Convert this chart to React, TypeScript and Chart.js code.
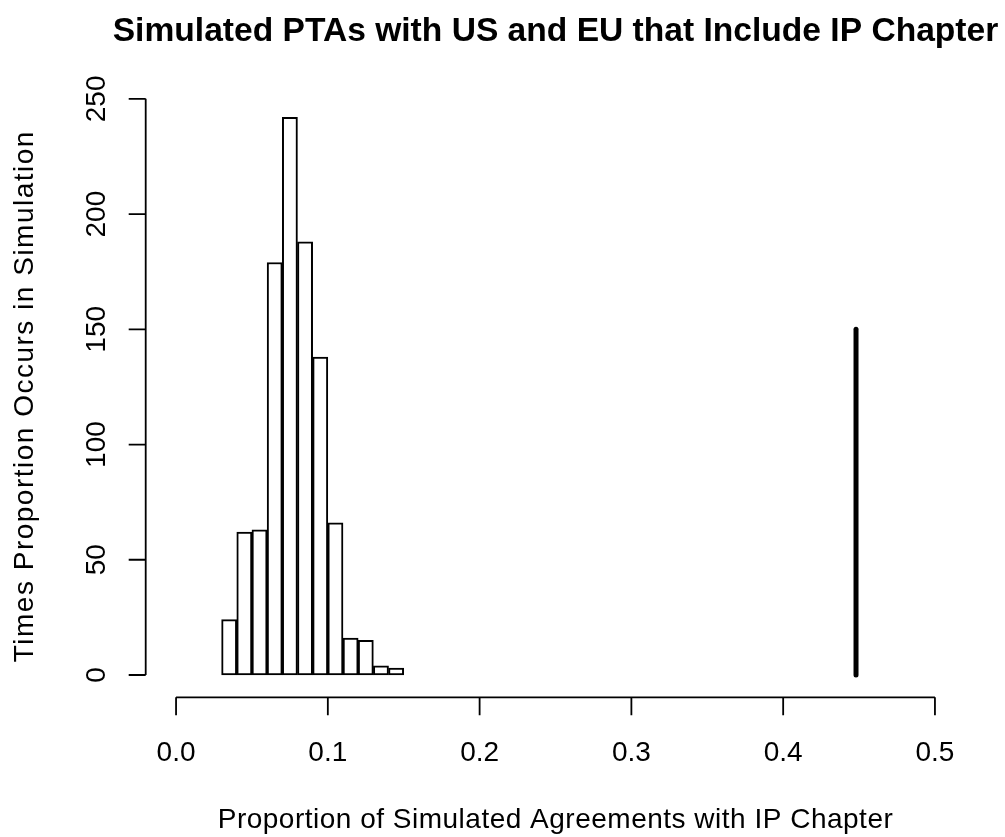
import React, { useEffect, useRef } from "react";
import { Chart, registerables } from "chart.js";

Chart.register(...registerables);

// Histogram bins (centers) and counts
const binCenters = [0.035, 0.045, 0.055, 0.065, 0.075, 0.085, 0.095, 0.105, 0.115, 0.125, 0.135, 0.145];
const binCounts = [24, 62, 63, 179, 242, 188, 138, 66, 16, 15, 4, 3];

// Observed proportion marker line
const observedX = [0.448, 0.448];
const observedY = [0, 150];

const xTicks = [0.0, 0.1, 0.2, 0.3, 0.4, 0.5];
const xTickLabels = ["0.0", "0.1", "0.2", "0.3", "0.4", "0.5"];
const yTicks = [0, 50, 100, 150, 200, 250];
const yTickLabels = ["0", "50", "100", "150", "200", "250"];

const titleText = "Simulated PTAs with US and EU that Include IP Chapter";
const xTitle = "Proportion of Simulated Agreements with IP Chapter";
const yTitle = "Times Proportion Occurs in Simulation";

const FONT = "'Liberation Sans', Arial, Helvetica, sans-serif";

const rAxesPlugin = {
  id: "rAxes",
  afterDraw(chart: any) {
    const ctx = chart.ctx;
    const xs = chart.scales.x;
    const ys = chart.scales.y;
    const area = chart.chartArea;
    ctx.save();
    ctx.strokeStyle = "#000";
    ctx.fillStyle = "#000";
    ctx.lineWidth = 1.8;
    ctx.lineCap = "butt";

    // x axis
    const xAxisY = area.bottom;
    const x0 = xs.getPixelForValue(xTicks[0]);
    const x1 = xs.getPixelForValue(xTicks[xTicks.length - 1]);
    ctx.beginPath();
    ctx.moveTo(x0, xAxisY);
    ctx.lineTo(x1, xAxisY);
    xTicks.forEach((t) => {
      const px = xs.getPixelForValue(t);
      ctx.moveTo(px, xAxisY);
      ctx.lineTo(px, xAxisY + 18);
    });
    ctx.stroke();
    ctx.font = `28px ${FONT}`;
    ctx.textAlign = "center";
    ctx.textBaseline = "alphabetic";
    xTicks.forEach((t, i) => {
      ctx.fillText(xTickLabels[i], xs.getPixelForValue(t), 761);
    });

    // y axis
    const yAxisX = area.left;
    const y0 = ys.getPixelForValue(yTicks[0]);
    const y1 = ys.getPixelForValue(yTicks[yTicks.length - 1]);
    ctx.beginPath();
    ctx.moveTo(yAxisX, y0);
    ctx.lineTo(yAxisX, y1);
    yTicks.forEach((t) => {
      const py = ys.getPixelForValue(t);
      ctx.moveTo(yAxisX, py);
      ctx.lineTo(yAxisX - 17, py);
    });
    ctx.stroke();
    yTicks.forEach((t, i) => {
      const py = ys.getPixelForValue(t);
      ctx.save();
      ctx.translate(105, py);
      ctx.rotate(-Math.PI / 2);
      ctx.textAlign = "center";
      ctx.textBaseline = "alphabetic";
      ctx.fillText(yTickLabels[i], 0, 0);
      ctx.restore();
    });

    // axis titles
    const cx = (area.left + area.right) / 2;
    const cy = (area.top + area.bottom) / 2;
    ctx.textAlign = "center";
    ctx.letterSpacing = "0.5px";
    ctx.fillText(xTitle, cx, 828);
    ctx.save();
    ctx.letterSpacing = "1.5px";
    ctx.translate(33, cy);
    ctx.rotate(-Math.PI / 2);
    ctx.fillText(yTitle, 0, 0);
    ctx.restore();

    // main title
    ctx.letterSpacing = "0px";
    ctx.font = `bold 33.6px ${FONT}`;
    ctx.fillText(titleText, cx, 41);
    ctx.restore();
  },
};

export default function App() {
  const canvasRef = useRef<HTMLCanvasElement | null>(null);

  useEffect(() => {
    const canvas = canvasRef.current;
    if (!canvas) return;
    const xMin = -0.02;
    const xMax = 0.52;
    const yDataMax = Math.max(...binCounts);
    const yPad = yDataMax * 0.04;
    const chart = new Chart(canvas, {
      type: "bar",
      data: {
        datasets: [
          {
            type: "bar",
            data: binCenters.map((c, i) => ({ x: c, y: binCounts[i] })),
            backgroundColor: "#ffffff",
            borderColor: "#000000",
            borderWidth: 2,
            borderSkipped: false,
            barPercentage: 1,
            categoryPercentage: 1,
          } as any,
          {
            type: "line",
            data: observedX.map((x, i) => ({ x, y: observedY[i] })),
            borderColor: "#000000",
            borderWidth: 5,
            borderCapStyle: "round",
            pointRadius: 0,
            fill: false,
          } as any,
        ],
      },
      options: {
        responsive: false,
        animation: false,
        layout: { padding: { left: 145.7, right: 1005 - 965.3, top: 95, bottom: 837 - 697.3 } },
        plugins: { legend: { display: false }, title: { display: false }, tooltip: { enabled: false } },
        scales: {
          x: { type: "linear", min: xMin, max: xMax, display: false, offset: false },
          y: { type: "linear", min: -yPad, max: yDataMax + yPad, display: false },
        },
      },
      plugins: [rAxesPlugin],
    });
    return () => chart.destroy();
  }, []);

  return (
    <div style={{ position: "fixed", left: 0, top: 0, width: 1005, height: 837, background: "#fff" }}>
      <canvas ref={canvasRef} width={1005} height={837} style={{ width: 1005, height: 837 }} />
    </div>
  );
}
